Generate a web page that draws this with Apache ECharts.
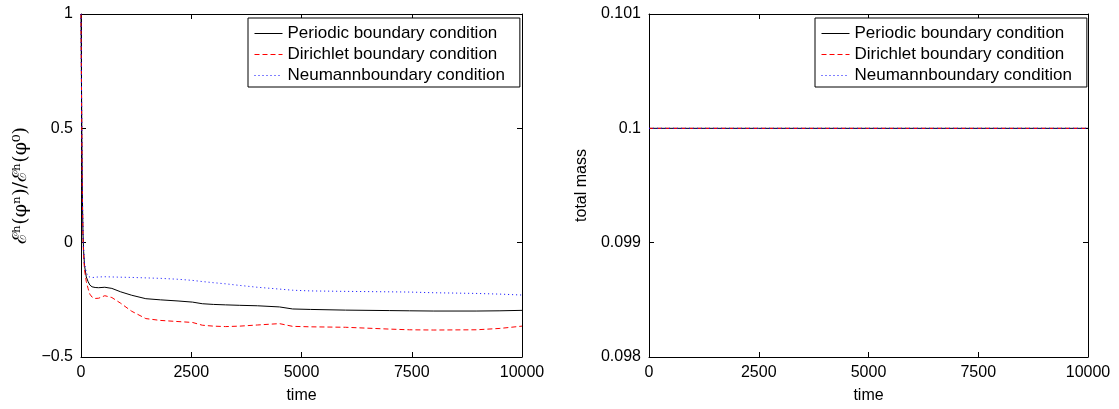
<!DOCTYPE html>
<html>
<head>
<meta charset="utf-8">
<script src="https://cdn.jsdelivr.net/npm/echarts@6/dist/echarts.min.js"></script>
<style>
html,body{margin:0;padding:0;background:#fff;}
#c{width:1119px;height:409px;}
</style>
</head>
<body>
<div id="c"></div>
<script>
// ---- data ----
var seriesNames = ['Periodic boundary condition', 'Dirichlet boundary condition', 'Neumannboundary condition'];
var timeTicks = [0, 2500, 5000, 7500, 10000];
var energyTicks = [-0.5, 0, 0.5, 1];
var massTicks = [0.098, 0.099, 0.1, 0.101];

var timeEnergy = [0, 10, 20, 30, 45, 60, 80, 120, 160, 200, 250, 320, 400, 540, 700, 900, 1150, 1470, 1800, 2200, 2530, 2750, 3000, 3280, 3600, 4000, 4500, 4800, 5200, 6000, 7000, 7450, 8000, 8960, 9500, 10000];
var periodicEnergy = [1.0, 0.72, 0.45, 0.22, 0.04, -0.04, -0.1, -0.15, -0.17, -0.185, -0.193, -0.196, -0.197, -0.195, -0.2, -0.215, -0.23, -0.245, -0.25, -0.255, -0.26, -0.267, -0.27, -0.272, -0.274, -0.276, -0.281, -0.29, -0.292, -0.295, -0.297, -0.298, -0.299, -0.299, -0.298, -0.296];
var dirichletEnergy = [1.0, 0.7, 0.42, 0.2, 0.02, -0.06, -0.12, -0.17, -0.2, -0.225, -0.238, -0.244, -0.243, -0.232, -0.24, -0.265, -0.3, -0.332, -0.34, -0.345, -0.349, -0.361, -0.365, -0.367, -0.365, -0.36, -0.354, -0.366, -0.368, -0.37, -0.378, -0.381, -0.382, -0.381, -0.375, -0.365];
var neumannEnergy = [1.0, 0.72, 0.45, 0.22, 0.05, -0.03, -0.09, -0.13, -0.148, -0.155, -0.153, -0.151, -0.15, -0.149, -0.15, -0.151, -0.152, -0.154, -0.156, -0.16, -0.165, -0.17, -0.175, -0.18, -0.187, -0.195, -0.203, -0.208, -0.211, -0.213, -0.215, -0.216, -0.219, -0.222, -0.225, -0.229];

var timeMass = [0, 2500, 5000, 7500, 10000];
var periodicMass = [0.1, 0.1, 0.1, 0.1, 0.1];
var dirichletMass = [0.1, 0.1, 0.1, 0.1, 0.1];
var neumannMass = [0.1, 0.1, 0.1, 0.1, 0.1];

function pairs(xs, ys) { return xs.map(function (x, i) { return [x, ys[i]]; }); }

var FONT = 'Liberation Sans, Arial, Helvetica, sans-serif';
var FS = 16;
var black = '#000';
var colors = ['#000000', '#ff0000', '#0000ff'];
var lineTypes = ['solid', [5, 3], [1, 3]];

function xAxisFor(grid, pos) {
  var bottom = pos === 'bottom';
  return {
    type: 'value', gridIndex: grid, position: pos,
    min: timeTicks[0], max: timeTicks[timeTicks.length - 1], interval: timeTicks[1] - timeTicks[0],
    name: bottom ? 'time' : '', nameLocation: 'middle', nameGap: 31,
    nameTextStyle: {fontFamily: FONT, fontSize: FS, color: black},
    axisLine: {show: true, onZero: false, lineStyle: {color: black, width: 1}},
    axisTick: {show: true, inside: true, length: 5, lineStyle: {color: black}},
    axisLabel: {show: bottom, margin: 8, fontFamily: FONT, fontSize: FS, color: black, formatter: function (v) { return String(v); }},
    splitLine: {show: false}
  };
}
function yAxisFor(grid, pos, ticks, name, gap, fmt, nameFont) {
  var left = pos === 'left';
  return {
    type: 'value', gridIndex: grid, position: pos,
    min: ticks[0], max: ticks[ticks.length - 1], interval: Math.round((ticks[1] - ticks[0]) * 1e6) / 1e6,
    name: left ? name : '', nameLocation: 'middle', nameGap: gap,
    nameTextStyle: {fontFamily: nameFont || FONT, fontSize: nameFont ? 19 : FS, color: black},
    axisLine: {show: true, onZero: false, lineStyle: {color: black, width: 1}},
    axisTick: {show: true, inside: true, length: 5, lineStyle: {color: black}},
    axisLabel: {show: left, margin: 8, fontFamily: FONT, fontSize: FS, color: black, formatter: fmt},
    splitLine: {show: false}
  };
}
function energyFmt(v) { var s = String(Math.round(v * 1000) / 1000); return v < 0 ? '\u2212' + s.slice(1) : s; }
function massFmt(v) { return String(parseFloat(v.toFixed(3))); }

function mkSeries(i, xAxisIndex, yAxisIndex, xs, ys) {
  return {
    type: 'line', name: seriesNames[i], xAxisIndex: xAxisIndex, yAxisIndex: yAxisIndex,
    data: pairs(xs, ys), symbol: 'none', showSymbol: false, smooth: false, animation: false,
    lineStyle: {color: colors[i], width: 1, type: lineTypes[i]},
    itemStyle: {color: colors[i]}, z: 2 + i
  };
}
function legendAt(left) {
  return {
    data: seriesNames.map(function (n, i) {
      return {name: n, itemStyle: {opacity: 0}, lineStyle: {color: colors[i], width: 1, type: lineTypes[i]}};
    }),
    orient: 'vertical', left: left, top: 18,
    backgroundColor: '#fff', borderColor: black, borderWidth: 1, borderRadius: 0,
    padding: [7, 15, 3, 6], itemGap: 4, itemWidth: 28, itemHeight: 14,
    selectedMode: false,
    textStyle: {fontFamily: FONT, fontSize: 17, color: black}
  };
}

var chart = echarts.init(document.getElementById('c'), null, {renderer: 'canvas'});
chart.setOption({
  animation: false,
  backgroundColor: '#fff',
  grid: [
    {left: 81, right: 1119 - 522, top: 14, bottom: 409 - 361, show: false},
    {left: 649, right: 1119 - 1088, top: 14, bottom: 409 - 361, show: false}
  ],
  legend: [legendAt(248), legendAt(815)],
  xAxis: [xAxisFor(0, 'bottom'), xAxisFor(0, 'top'), xAxisFor(1, 'bottom'), xAxisFor(1, 'top')],
  yAxis: [
    yAxisFor(0, 'left', energyTicks, 'ℰʰ(φⁿ)/ℰʰ(φ⁰)', 50, energyFmt, 'DejaVu Serif, serif'),
    yAxisFor(0, 'right', energyTicks, '', 0, energyFmt),
    yAxisFor(1, 'left', massTicks, 'total mass', 59, massFmt),
    yAxisFor(1, 'right', massTicks, '', 0, massFmt)
  ],
  series: [
    mkSeries(0, 0, 0, timeEnergy, periodicEnergy),
    mkSeries(1, 0, 0, timeEnergy, dirichletEnergy),
    mkSeries(2, 0, 0, timeEnergy, neumannEnergy),
    mkSeries(0, 2, 2, timeMass, periodicMass),
    mkSeries(1, 2, 2, timeMass, dirichletMass),
    mkSeries(2, 2, 2, timeMass, neumannMass)
  ]
});
</script>
</body>
</html>
